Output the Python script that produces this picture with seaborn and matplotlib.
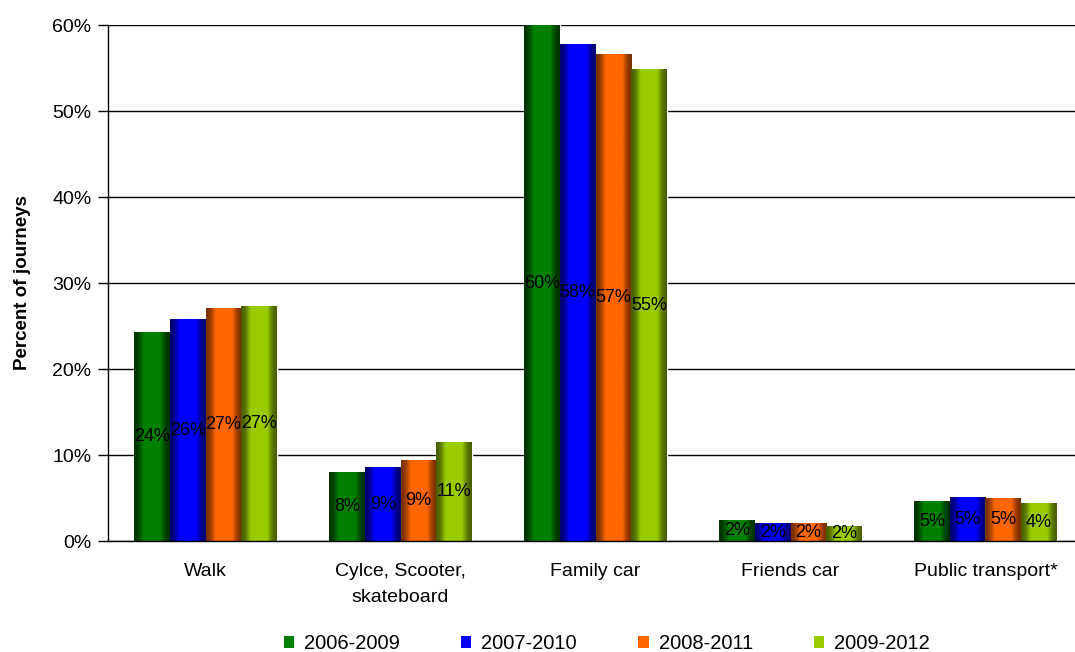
import numpy as np
import pandas as pd
import matplotlib
matplotlib.use("Agg")
import matplotlib.pyplot as plt
from matplotlib.colors import to_rgb
from matplotlib.patches import Patch
import seaborn as sns

# Share of school journeys by travel mode, for four rolling survey periods
modes = ["Walk", "Cylce, Scooter,\nskateboard", "Family car", "Friends car", "Public transport*"]
periods = ["2006-2009", "2007-2010", "2008-2011", "2009-2012"]
p_2006_2009 = [24.2, 8.0, 60.0, 2.4, 4.6]
p_2007_2010 = [25.8, 8.6, 57.7, 2.0, 5.1]
p_2008_2011 = [27.0, 9.4, 56.6, 2.0, 4.9]
p_2009_2012 = [27.3, 11.4, 54.8, 1.7, 4.4]
yticks = [0, 10, 20, 30, 40, 50, 60]

base_colors = ["#008000", "#0000FF", "#FF6600", "#99CC00"]
edge_colors = ["#003300", "#000070", "#7A3000", "#4A6000"]

df = pd.DataFrame({
    "mode": modes * 4,
    "period": np.repeat(periods, len(modes)),
    "pct": p_2006_2009 + p_2007_2010 + p_2008_2011 + p_2009_2012,
})

sns.set_style("white")
plt.rcParams["font.family"] = ["Liberation Sans", "DejaVu Sans"]
plt.rcParams["text.color"] = "black"
plt.rcParams["axes.labelcolor"] = "black"
plt.rcParams["xtick.color"] = "black"
plt.rcParams["ytick.color"] = "black"

fig = plt.figure(figsize=(10.75, 6.52), dpi=100)
ax = fig.add_axes([108 / 1075, 1 - 541 / 652, 975 / 1075, 516 / 652])

sns.barplot(data=df, x="mode", y="pct", hue="period", order=modes,
            hue_order=periods, palette=base_colors, width=0.73,
            legend=False, ax=ax, errorbar=None, zorder=3)

# Cylinder-style horizontal shading on each bar
t = np.linspace(0, 1, 64)
w = np.clip(np.sin(np.pi * t) ** 2 * 1.8, 0, 1)
bars = [p for p in ax.patches if p.get_height() > 0]
for bar in bars:
    fc = np.array(bar.get_facecolor()[:3])
    idx = int(np.argmin([np.sum((fc - np.array(to_rgb(c))) ** 2) for c in base_colors]))
    base = np.array(to_rgb(base_colors[idx]))
    dark = np.array(to_rgb(edge_colors[idx]))
    grad = dark[None, :] * (1 - w[:, None]) + base[None, :] * w[:, None]
    x0, y0 = bar.get_x(), bar.get_y()
    bw, bh = bar.get_width(), bar.get_height()
    ax.imshow(grad[None, :, :], extent=[x0, x0 + bw, y0, y0 + bh],
              aspect="auto", interpolation="bilinear", zorder=3.5)

# Value labels centred in each bar
for bar in bars:
    h = bar.get_height()
    ax.text(bar.get_x() + bar.get_width() / 2, h / 2, f"{h:.0f}%",
            ha="center", va="center", fontsize=13, color="black", zorder=5)

ax.set_xlim(-0.5, len(modes) - 0.5)
ax.set_ylim(0, 60)
ax.set_yticks(yticks)
ax.set_yticklabels([f"{v}%" for v in yticks], fontsize=14)
ax.set_xticks(range(len(modes)))
ax.set_xticklabels(modes, fontsize=14, linespacing=1.65)
ax.set_xticks(np.arange(0.5, len(modes) - 0.5, 1), minor=True)
ax.tick_params(axis="x", which="major", length=0, pad=16)
ax.tick_params(axis="x", which="minor", length=5, width=1, color="black", direction="out")
ax.tick_params(axis="y", length=7, width=1, color="black", direction="out", left=True, pad=5)
ax.set_xlabel("")
ax.set_ylabel("Percent of journeys", fontsize=13.5, fontweight="bold", labelpad=15)

ax.yaxis.grid(True, color="black", linewidth=1, zorder=0)
ax.set_axisbelow(True)
for side in ["top", "right"]:
    ax.spines[side].set_visible(False)
for side in ["left", "bottom"]:
    ax.spines[side].set_color("black")
    ax.spines[side].set_linewidth(1)
    ax.spines[side].set_zorder(6)

handles = [Patch(facecolor=c, edgecolor="none") for c in base_colors]
fig.legend(handles, periods, loc="lower center", bbox_to_anchor=(607 / 1075, -0.03),
           ncol=4, frameon=False, fontsize=14.5, handlelength=0.5, handleheight=0.55,
           handletextpad=0.5, columnspacing=3.05)

fig.savefig("out.png", dpi=100)
